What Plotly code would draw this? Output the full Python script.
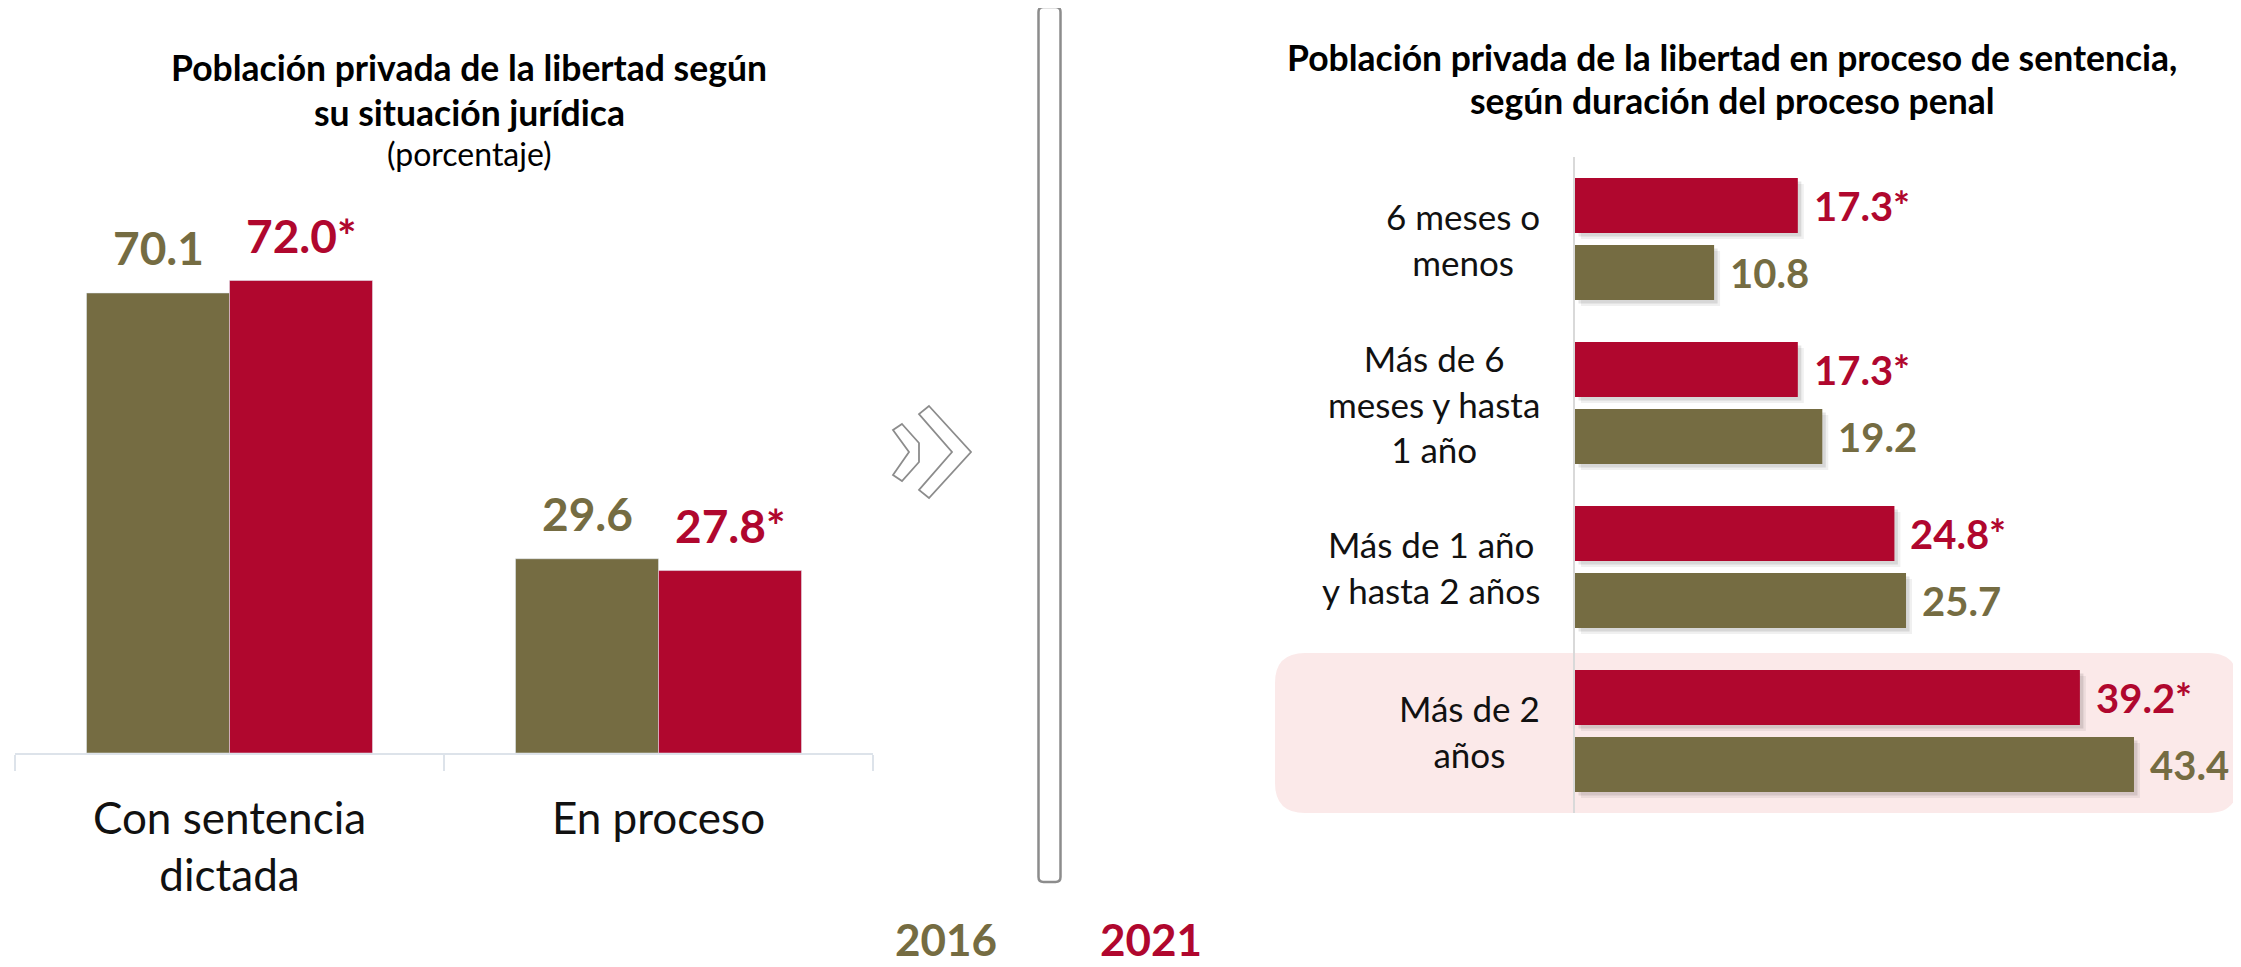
import plotly.graph_objects as go

# page is 2241x967; the HTML body has an 8px default margin
OFF = 8
W, H = 2241 - OFF, 967 - OFF

# ---------------- data ----------------
years = ["2016", "2021"]
year_colors = {"2016": "#756C42", "2021": "#B0072E"}

left_categories = ["Con sentencia<br>dictada", "En proceso"]
left_2016 = [70.1, 29.6]
left_2021 = [72.0, 27.8]
left_2021_marks = ["*", "*"]

right_categories = [
    "6 meses o<br>menos",
    "Más de 6<br>meses y hasta<br>1 año",
    "Más de 1 año<br>y hasta 2 años",
    "Más de 2<br>años",
]
right_2016 = [10.8, 19.2, 25.7, 43.4]
right_2021 = [17.3, 17.3, 24.8, 39.2]
right_2021_marks = ["*", "*", "*", "*"]

left_title = ["Población privada de la libertad según", "su situación jurídica"]
left_subtitle = "(porcentaje)"
right_title = ["Población privada de la libertad en proceso de sentencia,",
               "según duración del proceso penal"]

FONT = "Lato"

# right chart geometry (pixels per category band / per unit)
BAND = 164.0
UNIT = 12.88
BAR_W = 55 / BAND
OFF_2021 = -61 / BAND
OFF_2016 = 6 / BAND


def px_x(p):
    return (p - OFF) / W


def px_y(p):
    return 1 - (p - OFF) / H


def rounded_rect(x0, y0, x1, y1, r):
    """Rounded rectangle path in paper coords from a page-pixel box."""
    X = px_x
    Y = px_y
    return (
        f"M {X(x0 + r)},{Y(y0)} L {X(x1 - r)},{Y(y0)} "
        f"Q {X(x1)},{Y(y0)} {X(x1)},{Y(y0 + r)} "
        f"L {X(x1)},{Y(y1 - r)} Q {X(x1)},{Y(y1)} {X(x1 - r)},{Y(y1)} "
        f"L {X(x0 + r)},{Y(y1)} Q {X(x0)},{Y(y1)} {X(x0)},{Y(y1 - r)} "
        f"L {X(x0)},{Y(y0 + r)} Q {X(x0)},{Y(y0)} {X(x0 + r)},{Y(y0)} Z"
    )


def poly(points):
    return "M " + " L ".join(f"{px_x(x)},{px_y(y)}" for x, y in points) + " Z"


fig = go.Figure()

# ---------------- left chart ----------------
fig.add_trace(go.Bar(
    x=left_categories, y=left_2016, name="2016", marker_color=year_colors["2016"],
    width=1 / 3, offset=-1 / 3, xaxis="x", yaxis="y", showlegend=False,
))
fig.add_trace(go.Bar(
    x=left_categories, y=left_2021, name="2021", marker_color=year_colors["2021"],
    width=1 / 3, offset=0, xaxis="x", yaxis="y", showlegend=False,
))

# ---------------- right chart ----------------
# soft drop shadows (same values, drawn first, nudged down/right)
for vals, off in [(right_2021, OFF_2021), (right_2016, OFF_2016)]:
    for d, a in [(6, 0.06), (3.5, 0.10)]:
        fig.add_trace(go.Bar(
            y=right_categories, x=vals, orientation="h",
            base=d / UNIT, width=BAR_W, offset=off + d / BAND,
            marker=dict(color=f"rgba(0,0,0,{a})", line=dict(width=0)),
            xaxis="x2", yaxis="y2", showlegend=False, hoverinfo="skip",
        ))

fig.add_trace(go.Bar(
    y=right_categories, x=right_2021, orientation="h", name="2021",
    marker=dict(color=year_colors["2021"], line=dict(width=0)),
    width=BAR_W, offset=OFF_2021,
    xaxis="x2", yaxis="y2", showlegend=False,
))
fig.add_trace(go.Bar(
    y=right_categories, x=right_2016, orientation="h", name="2016",
    marker=dict(color=year_colors["2016"], line=dict(width=0)),
    width=BAR_W, offset=OFF_2016,
    xaxis="x2", yaxis="y2", showlegend=False,
))

annotations = []

# left value labels
for cat, v in zip(left_categories, left_2016):
    annotations.append(dict(
        x=cat, y=v, xref="x", yref="y", text=f"{v:.1f}", showarrow=False,
        xshift=-71.5, yshift=45, yanchor="middle",
        font=dict(family=FONT, size=46, weight="bold", color=year_colors["2016"]),
    ))
for cat, v, m in zip(left_categories, left_2021, left_2021_marks):
    annotations.append(dict(
        x=cat, y=v, xref="x", yref="y", text=f"{v:.1f}{m}", showarrow=False,
        xshift=71.5, yshift=45, yanchor="middle",
        font=dict(family=FONT, size=46, weight="bold", color=year_colors["2021"]),
    ))

# right value labels
for cat, v, m in zip(right_categories, right_2021, right_2021_marks):
    annotations.append(dict(
        x=v, y=cat, xref="x2", yref="y2", text=f"{v:.1f}{m}", showarrow=False,
        xanchor="left", xshift=14, yshift=33.5, yanchor="middle",
        font=dict(family=FONT, size=40, weight="bold", color=year_colors["2021"]),
    ))
for cat, v in zip(right_categories, right_2016):
    annotations.append(dict(
        x=v, y=cat, xref="x2", yref="y2", text=f"{v:.1f}", showarrow=False,
        xanchor="left", xshift=14, yshift=-33.5, yanchor="middle",
        font=dict(family=FONT, size=40, weight="bold", color=year_colors["2016"]),
    ))

# right category labels (centered lines, right-aligned block)
for cat in right_categories:
    annotations.append(dict(
        x=px_x(1542), y=cat, xref="paper", yref="y2", text=cat, showarrow=False,
        xanchor="right", yanchor="middle", align="center",
        font=dict(family=FONT, size=35, color="#111111"),
    ))

# titles
for txt, cx, cy in [(left_title[0], 469, 67), (left_title[1], 469, 113),
                    (right_title[0], 1732, 57), (right_title[1], 1732, 100)]:
    annotations.append(dict(
        x=px_x(cx), y=px_y(cy), xref="paper", yref="paper", text=txt, showarrow=False,
        xanchor="center", yanchor="middle",
        font=dict(family=FONT, size=35.5, weight="bold", color="#000000"),
    ))
annotations.append(dict(
    x=px_x(469), y=px_y(153), xref="paper", yref="paper", text=left_subtitle,
    showarrow=False, xanchor="center", yanchor="middle",
    font=dict(family=FONT, size=32, color="#000000"),
))

# year keys at bottom (box kept inside the page)
for yr, cx in zip(years, [946, 1151]):
    annotations.append(dict(
        x=px_x(cx), y=px_y(966), xref="paper", yref="paper", text=yr, showarrow=False,
        xanchor="center", yanchor="bottom", borderpad=0,
        font=dict(family=FONT, size=44, weight="bold", color=year_colors[yr]),
    ))

shapes = [
    # highlight behind last group
    dict(type="path", xref="paper", yref="paper", layer="below",
         path=rounded_rect(1275, 653, 2238, 813, 30),
         fillcolor="#FBE9E9", line=dict(width=0)),
    # vertical divider
    dict(type="path", xref="paper", yref="paper",
         path=rounded_rect(1038.5, 7, 1060.5, 882, 5),
         fillcolor="rgba(0,0,0,0)", line=dict(color="#8C8C8C", width=2.5)),
    # chevrons
    dict(type="path", xref="paper", yref="paper",
         path=poly([(929, 406), (971, 452), (929, 498), (919, 490), (952, 452), (919, 414)]),
         fillcolor="rgba(0,0,0,0)", line=dict(color="#8C8C8C", width=1.8)),
    dict(type="path", xref="paper", yref="paper",
         path=poly([(902, 424), (919, 443), (919, 462), (902, 481), (893, 475), (909, 452), (893, 430)]),
         fillcolor="rgba(0,0,0,0)", line=dict(color="#8C8C8C", width=1.8)),
]

axis_col = "#DDE3EA"
fig.update_layout(
    width=W, height=H,
    margin=dict(l=0, r=0, t=0, b=0),
    paper_bgcolor="white", plot_bgcolor="rgba(0,0,0,0)",
    barmode="group",
    font=dict(family=FONT),
    xaxis=dict(
        domain=[px_x(15), px_x(873)], type="category",
        categoryorder="array", categoryarray=left_categories,
        showline=True, linecolor=axis_col, linewidth=2,
        ticks="outside", tickson="boundaries", ticklen=16, tickcolor=axis_col, tickwidth=2,
        tickfont=dict(family=FONT, size=44, color="#111111"),
        ticklabelstandoff=26,
        showgrid=False, zeroline=False, anchor="y",
    ),
    yaxis=dict(
        domain=[px_y(753), px_y(228)], range=[0, 80], visible=False, anchor="x",
    ),
    xaxis2=dict(
        domain=[px_x(1575), px_x(2219)], range=[0, 50], visible=False, anchor="y2",
    ),
    yaxis2=dict(
        domain=[px_y(813), px_y(157)], type="category",
        categoryorder="array", categoryarray=right_categories,
        autorange="reversed", showline=True, linecolor="#D9D9D9", linewidth=2,
        showticklabels=False, ticks="", showgrid=False, zeroline=False, anchor="x2",
    ),
    annotations=annotations,
    shapes=shapes,
)

fig.write_html("out.html")
